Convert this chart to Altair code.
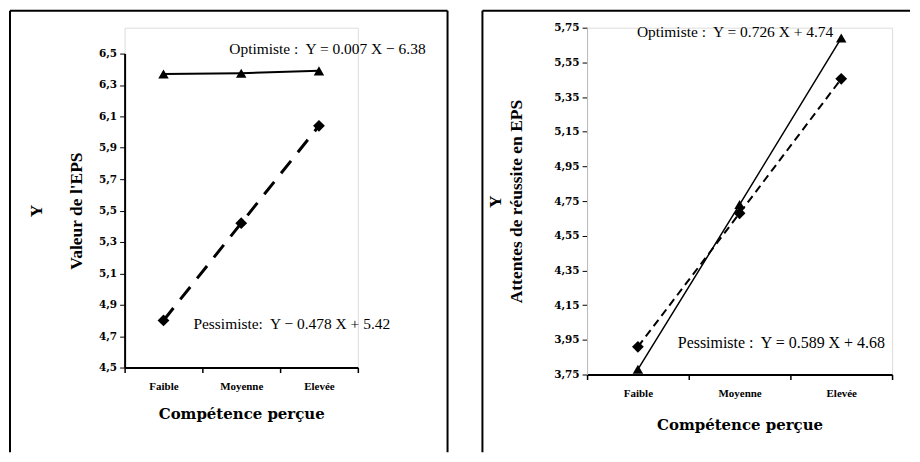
import altair as alt
import pandas as pd

cats = ["Faible", "Moyenne", "Elevée"]

# Left panel: Valeur de l'EPS
left_opt = [6.37, 6.375, 6.39]
left_pes = [4.80, 5.42, 6.04]
left_ticks = [4.5, 4.7, 4.9, 5.1, 5.3, 5.5, 5.7, 5.9, 6.1, 6.3, 6.5]
left_labels = ["Optimiste :\u00a0 Y = 0.007 X − 6.38", "Pessimiste:\u00a0 Y − 0.478 X + 5.42"]
left_label_cat = ["Faible", "Faible"]
left_label_y = [6.532, 4.779]
left_label_dx = [66, 30]

# Right panel: Attentes de réussite en EPS
right_opt = [3.78, 4.73, 5.69]
right_pes = [3.91, 4.68, 5.455]
right_ticks = [3.75, 3.95, 4.15, 4.35, 4.55, 4.75, 4.95, 5.15, 5.35, 5.55, 5.75]
right_labels = ["Optimiste :\u00a0 Y = 0.726 X + 4.74", "Pessimiste :\u00a0 Y = 0.589 X + 4.68"]
right_label_cat = ["Faible", "Faible"]
right_label_y = [5.727, 3.934]
right_label_dx = [-1, 40]

SERIF = "Liberation Serif"


def panel(opt, pes, ticks, fmt, domain, yrange, ytitle, tline, tpad, ydomcolor,
          labels, lcat, ly, ldx, w, h, border, pes_dash, pes_w, opt_w, right_side,
          xtpad, fsize):
    d_opt = pd.DataFrame({"cat": cats, "val": opt})
    d_pes = pd.DataFrame({"cat": cats, "val": pes})
    d_lab = pd.DataFrame({"cat": lcat, "val": ly, "txt": labels})

    X = alt.X("cat:N", sort=cats,
              scale=alt.Scale(type="band", paddingInner=0, paddingOuter=0),
              axis=alt.Axis(title="Compétence perçue", labelAngle=0, tickBand="extent",
                            labelFont=SERIF, labelFontWeight="bold", labelFontSize=11,
                            labelColor="black", labelPadding=8, tickSize=5, tickWidth=1.5,
                            tickColor="black", domainColor="black", domainWidth=2,
                            titleFont="DejaVu Serif", titleFontSize=15, titleFontWeight="bold",
                            titleColor="black", titlePadding=xtpad, grid=False))
    Y = alt.Y("val:Q",
              scale=alt.Scale(domain=domain, range=yrange, nice=False, zero=False),
              axis=alt.Axis(values=ticks,
                            labelExpr=f"replace(format(datum.value,'{fmt}'),'.',',')",
                            title=ytitle, titleFont=SERIF, titleFontSize=17.5,
                            titleFontWeight="bold", titleColor="black",
                            titleLineHeight=tline, titlePadding=tpad,
                            labelFont="DejaVu Serif", labelFontWeight="bold", labelFontSize=10.5,
                            labelColor="black", labelPadding=3, tickSize=5,
                            tickColor="black", domainColor=ydomcolor,
                            domainWidth=2 if ydomcolor == "black" else 1, grid=False))

    opt_line = alt.Chart(d_opt).mark_line(color="black", strokeWidth=opt_w).encode(x=X, y=Y)
    opt_pts = alt.Chart(d_opt).mark_point(shape="triangle-up", filled=True, color="black",
                                          size=110, opacity=1).encode(x=X, y=Y)
    pes_line = alt.Chart(d_pes).mark_line(color="black", strokeWidth=pes_w,
                                          strokeDash=pes_dash).encode(x=X, y=Y)
    pes_pts = alt.Chart(d_pes).mark_point(shape="diamond", filled=True, color="black",
                                          size=140, opacity=1).encode(x=X, y=Y)

    txts = []
    for i in range(len(labels)):
        txts.append(alt.Chart(d_lab.iloc[[i]]).mark_text(
            font=SERIF, fontSize=fsize[i], color="black", align="left",
            baseline="middle", dx=ldx[i]).encode(x=X, y=Y, text="txt:N"))

    bx0, bx1, by0, by1 = border
    frame = [
        alt.Chart(d_opt.iloc[[0]]).mark_rule(color="black", strokeWidth=2).encode(
            x=alt.value(bx0), y=alt.value(by0), y2=alt.value(by1)),
        alt.Chart(d_opt.iloc[[0]]).mark_rule(color="black", strokeWidth=2).encode(
            x=alt.value(bx0), x2=alt.value(bx1), y=alt.value(by0)),
    ]
    if not right_side:
        frame.append(alt.Chart(d_opt.iloc[[0]]).mark_rule(color="black", strokeWidth=2).encode(
            x=alt.value(bx1), y=alt.value(by0), y2=alt.value(by1)))

    return alt.layer(opt_line, pes_line, opt_pts, pes_pts, *txts, *frame).properties(
        width=w, height=h)


left = panel(left_opt, left_pes, left_ticks, ".1f", [4.5, 6.5], [341, 26],
             ["Y", "Valeur de l'EPS"], 40, 13, "black",
             left_labels, left_label_cat, left_label_y, left_label_dx,
             234, 341, (-115, 324, -17, 426), [16, 11], 3, 2, False, 15, [15.5, 15.5])
right = panel(right_opt, right_pes, right_ticks, ".2f", [3.75, 5.75], [348, 0],
              ["Y", "Attentes de réussite en EPS"], 21, 28, "#bbbbbb",
              right_labels, right_label_cat, right_label_y, right_label_dx,
              306, 348, (-105, 324, -17, 426), [8, 5], 2, 1.5, True, 19, [15.5, 16])

chart = alt.hconcat(left, right, spacing=31).properties(padding=0).configure_view(
    stroke=None).configure(background="white")

chart.save("out.html", embed_options={"renderer": "svg", "actions": False})
